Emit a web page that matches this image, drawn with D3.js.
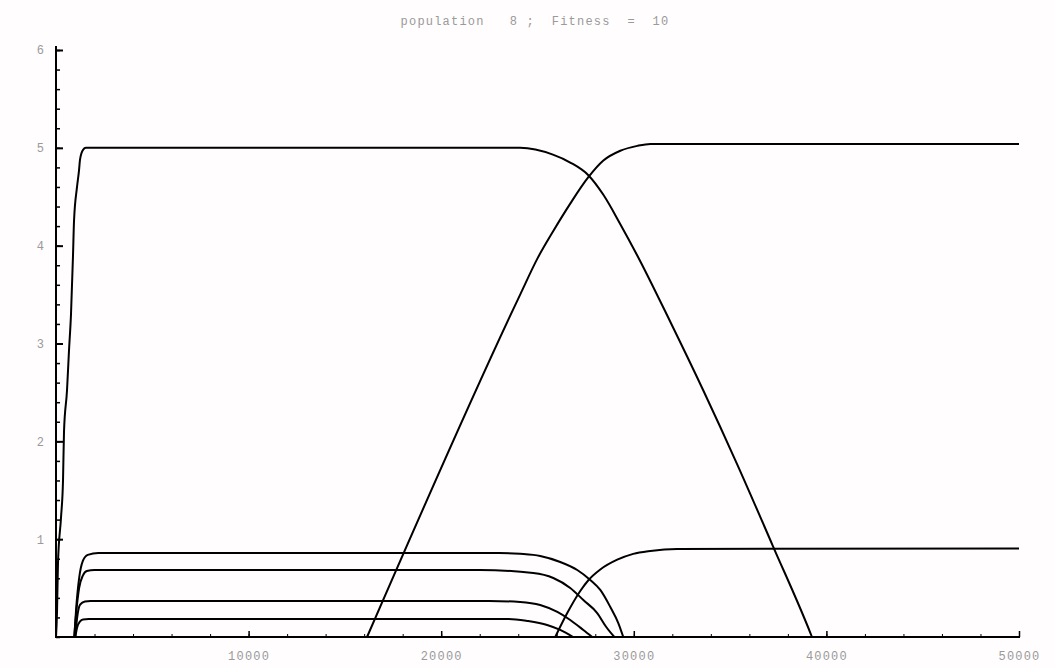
<!DOCTYPE html>
<html>
<head>
<meta charset="utf-8">
<script src="https://cdn.jsdelivr.net/npm/d3@7"></script>
<style>
  body { margin: 0; background: #fffdfe; }
  svg { display: block; }
  .lbl { font-family: "Liberation Mono", "DejaVu Sans Mono", monospace; font-size: 12px; letter-spacing: 1.2px; fill: #9a9a9a; }
</style>
</head>
<body>
<div id="chart"></div>
<script>
// chart title
let title = "population   8 ;  Fitness  =  10";

// tick values
let xMajorTicks = [10000, 20000, 30000, 40000, 50000];
let xMinorTicks = d3.range(0, 50001, 2000);
let yMajorTicks = [1, 2, 3, 4, 5, 6];
let yMinorTicks = d3.range(0, 6.01, 0.2);

// series, [x, y] pairs
let seriesBig = [[0,0],[52,0.25],[104,0.76],[260,1.22],[364,1.6],[416,2.1],[571,2.52],[675,2.93],[779,3.3],[883,3.9],[935,4.25],[1091,4.6],[1195,4.77],[1247,4.88],[1403,4.98],[1550,5.0],
  [24100,5.0],[25800,4.93],[26700,4.85],[27640,4.72],[28420,4.52],[29300,4.22],[30180,3.90],[31900,3.22],[33610,2.52],[35380,1.76],[37200,0.94],[39170,0.04],[39250,0]];
let seriesRise = [[16150,0],[24100,3.5],[25000,3.87],[25820,4.15],[26700,4.43],[27640,4.70],[28420,4.87],[29300,4.97],[30180,5.02],[30860,5.04],[50000,5.04]];
let seriesRiseSmall = [[25920,0],[26545,0.245],[27220,0.47],[27640,0.58],[28260,0.69],[29140,0.79],[29970,0.85],[30860,0.88],[32260,0.9],[50000,0.905]];
let seriesS1 = [[950,0],[1050,0.3],[1200,0.6],[1400,0.78],[1650,0.84],[2200,0.859],[23000,0.859],[24100,0.85],[25140,0.828],[26180,0.767],[27065,0.685],[27740,0.583],[28260,0.481],[28780,0.307],[29195,0.143],[29455,0]];
let seriesS2 = [[950,0],[1050,0.25],[1200,0.5],[1400,0.63],[1600,0.675],[2000,0.685],[22000,0.685],[24780,0.654],[25820,0.603],[26700,0.501],[27380,0.378],[28100,0.245],[28570,0.102],[28990,0]];
let seriesS3 = [[1000,0],[1100,0.2],[1250,0.33],[1500,0.362],[1800,0.368],[22500,0.368],[24100,0.358],[25140,0.327],[26030,0.256],[26700,0.174],[27380,0.072],[27840,0]];
let seriesS4 = [[1000,0],[1100,0.1],[1250,0.16],[1400,0.18],[1700,0.184],[23500,0.184],[24470,0.164],[25500,0.123],[26180,0.072],[26850,0]];

let allSeries = [seriesBig, seriesRise, seriesRiseSmall, seriesS1, seriesS2, seriesS3, seriesS4];

let width = 1055, height = 668;

let svg = d3.select("#chart").append("svg")
    .attr("width", width)
    .attr("height", height);

let x = d3.scaleLinear().domain([0, 50000]).range([56, 1019]);
let y = d3.scaleLinear().domain([0, 6]).range([637, 50]);

// title
svg.append("text")
    .attr("class", "lbl")
    .attr("x", 535)
    .attr("y", 25)
    .attr("text-anchor", "middle")
    .style("white-space", "pre")
    .text(title);

// -------------------- AXES -------------------- //

// x minor ticks
svg.append("g")
    .attr("transform", `translate(0,${y(0)})`)
    .call(d3.axisBottom(x).tickValues(xMinorTicks).tickSize(-3).tickSizeOuter(0).tickFormat(""))
    .call(g => g.select(".domain").attr("stroke-width", 2).attr("d", `M${x(0)},0H${x(50000) + 1}`));

// x major ticks + labels
svg.append("g")
    .attr("transform", `translate(0,${y(0)})`)
    .call(d3.axisBottom(x).tickValues(xMajorTicks).tickSize(-6).tickSizeOuter(0).tickFormat(d3.format("d")))
    .call(g => g.select(".domain").remove())
    .call(g => g.selectAll(".tick line").attr("stroke-width", 1.5))
    .call(g => g.selectAll(".tick text")
        .attr("class", "lbl")
        .attr("y", 23)
        .attr("dy", 0)
        .attr("fill", null));

// y minor ticks
svg.append("g")
    .attr("transform", `translate(${x(0)},0)`)
    .call(d3.axisLeft(y).tickValues(yMinorTicks).tickSize(-4).tickSizeOuter(0).tickFormat(""))
    .call(g => g.select(".domain").attr("stroke-width", 2).attr("d", `M0,${y(0) + 1}V${y(6) - 4}`))
    .call(g => g.selectAll(".tick line").attr("stroke-width", 1.5));

// y major ticks + labels
svg.append("g")
    .attr("transform", `translate(${x(0)},0)`)
    .call(d3.axisLeft(y).tickValues(yMajorTicks).tickSize(-7).tickSizeOuter(0).tickFormat(d3.format("d")))
    .call(g => g.select(".domain").remove())
    .call(g => g.selectAll(".tick line").attr("stroke-width", 2))
    .call(g => g.selectAll(".tick text")
        .attr("class", "lbl")
        .attr("x", -15)
        .attr("text-anchor", "middle")
        .attr("fill", null));

// -------------------- CURVES -------------------- //
let line = d3.line()
    .x(d => x(d[0]))
    .y(d => y(d[1]))
    .curve(d3.curveMonotoneX);

svg.append("g")
    .selectAll("path")
    .data(allSeries)
    .enter()
    .append("path")
    .attr("d", line)
    .attr("fill", "none")
    .attr("stroke", "#000")
    .attr("stroke-width", 2);
</script>
</body>
</html>
